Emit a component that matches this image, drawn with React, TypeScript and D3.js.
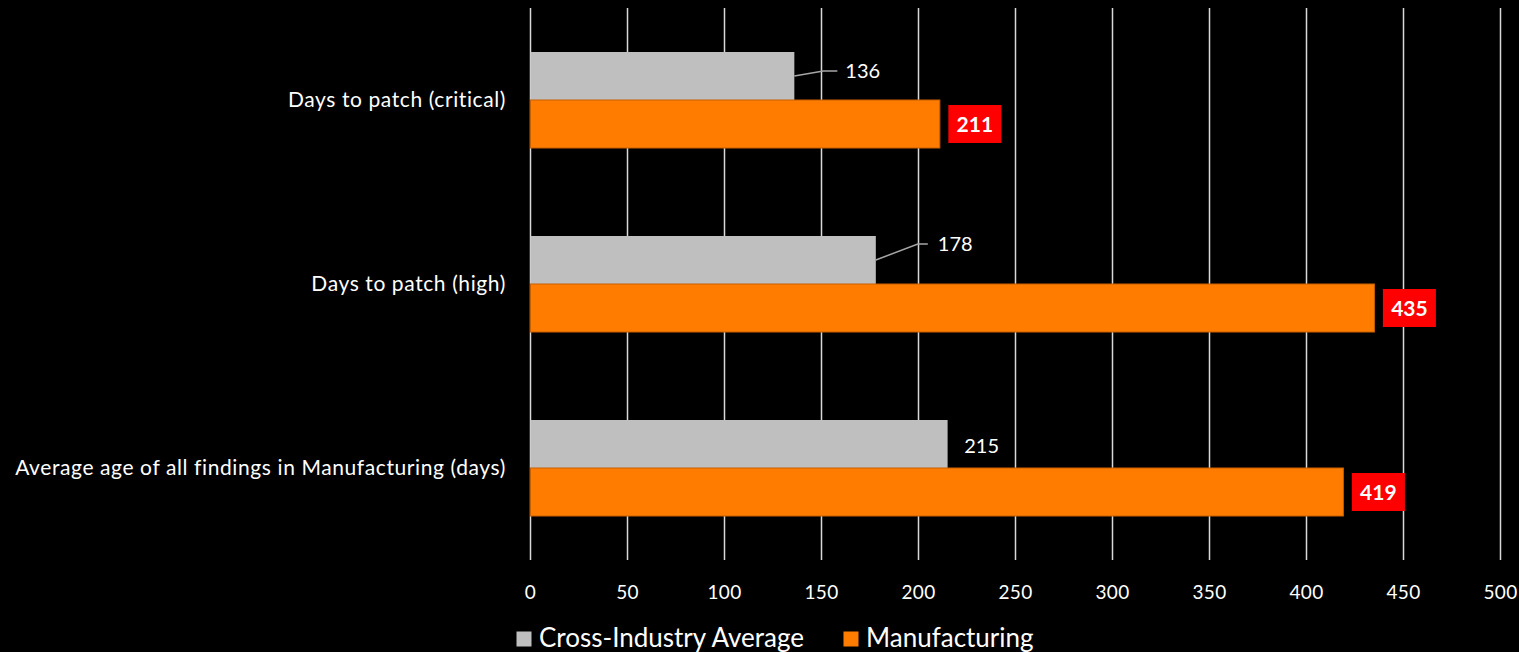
import React from "react";
import * as d3 from "d3";

const categories = [
  "Days to patch (critical)",
  "Days to patch (high)",
  "Average age of all findings in Manufacturing (days)",
];
const crossIndustry = [136, 178, 215];
const manufacturing = [211, 435, 419];
const seriesNames = ["Cross-Industry Average", "Manufacturing"];
const ticks = [0, 50, 100, 150, 200, 250, 300, 350, 400, 450, 500];

// label placement for the gray series (leader lines), in px relative to the bar end/centre
const grayLabelLayout = [
  { leader: true, ex: 29, ey: -5, hx: 14, tx: 8 },
  { leader: true, ex: 42, ey: -16, hx: 10, tx: 10 },
  { leader: false, ex: 34, ey: 2, hx: 0, tx: 0 },
];

const W = 1519;
const H = 652;
const FONT = "Lato, 'Open Sans', sans-serif";

export default function App() {
  const x = d3.scaleLinear().domain([0, 500]).range([530.5, 1500.5]);
  const y = d3.scaleBand().domain(categories).range([8, 560]);
  const bandH = y.bandwidth();
  const barH = 48;

  return (
    <svg
      width={W}
      height={H}
      style={{ position: "absolute", left: 0, top: 0, display: "block", background: "#000" }}
    >
      <rect x={0} y={0} width={W} height={H} fill="#000" />
      {ticks.map((t) => (
        <line
          key={t}
          x1={x(t)}
          x2={x(t)}
          y1={8}
          y2={560}
          stroke="#d9d9d9"
          strokeWidth={1.5}
        />
      ))}
      {ticks.map((t) => (
        <text
          key={"t" + t}
          x={x(t)}
          y={599}
          fill="#fff"
          fontFamily={FONT}
          fontSize={19}
          letterSpacing={0.3}
          textAnchor="middle"
        >
          {t}
        </text>
      ))}
      {categories.map((c, i) => {
        const cy = (y(c) as number) + bandH / 2;
        const gv = crossIndustry[i];
        const mv = manufacturing[i];
        const L = grayLabelLayout[i];
        const gx = x(gv);
        const gy = cy - barH / 2;
        return (
          <g key={c}>
            <text
              x={506}
              y={cy}
              dy="0.35em"
              fill="#fff"
              fontFamily={FONT}
              fontSize={21}
              letterSpacing={0.6}
              textAnchor="end"
            >
              {c}
            </text>
            <rect
              x={x(0)}
              y={cy - barH}
              width={gx - x(0)}
              height={barH}
              fill="#bfbfbf"
            />
            <rect
              x={x(0)}
              y={cy}
              width={x(mv) - x(0)}
              height={barH}
              fill="#ff7c00"
              stroke="#c86000"
              strokeWidth={1}
            />
            {L.leader ? (
              <>
                <polyline
                  points={`${gx},${gy} ${gx + L.ex},${gy + L.ey} ${gx + L.ex + L.hx},${gy + L.ey}`}
                  fill="none"
                  stroke="#a6a6a6"
                  strokeWidth={1.5}
                />
                <text
                  x={gx + L.ex + L.hx + L.tx}
                  y={gy + L.ey}
                  dy="0.35em"
                  fill="#fff"
                  fontFamily={FONT}
                  fontSize={20}
                >
                  {gv}
                </text>
              </>
            ) : (
              <text
                x={gx + L.ex}
                y={gy + L.ey}
                dy="0.35em"
                fill="#fff"
                fontFamily={FONT}
                fontSize={20}
                textAnchor="middle"
              >
                {gv}
              </text>
            )}
            <rect
              x={x(mv) + 8.5}
              y={cy + barH / 2 - 19}
              width={53}
              height={38}
              fill="#ff0000"
            />
            <text
              x={x(mv) + 8.5 + 26.5}
              y={cy + barH / 2}
              dy="0.36em"
              fill="#fff"
              fontFamily={FONT}
              fontWeight="bold"
              fontSize={21}
              textAnchor="middle"
            >
              {mv}
            </text>
          </g>
        );
      })}
      {/* legend */}
      <rect x={516.5} y={631.5} width={15} height={15} fill="#bfbfbf" />
      <text x={539} y={647} fill="#fff" fontFamily={FONT} fontSize={26}>
        {seriesNames[0]}
      </text>
      <rect x={843.5} y={631.5} width={15} height={15} fill="#ff7c00" />
      <text x={866} y={647} fill="#fff" fontFamily={FONT} fontSize={26}>
        {seriesNames[1]}
      </text>
    </svg>
  );
}
